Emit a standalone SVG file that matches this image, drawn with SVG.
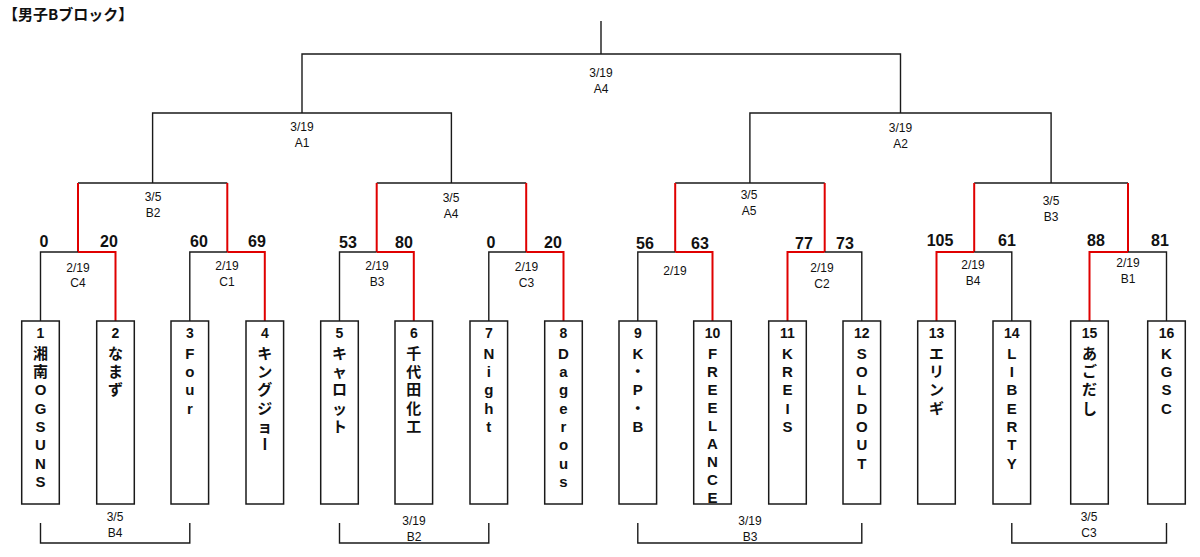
<svg xmlns="http://www.w3.org/2000/svg" width="1200" height="557" viewBox="0 0 1200 557">
<style>
.k{fill:none;stroke:#1a1a1a;stroke-width:1.4}
.r{fill:none;stroke:#e00000;stroke-width:2}
.box{fill:#fff;stroke:#1a1a1a;stroke-width:1.5}
.lb{font-family:"Liberation Sans","Noto Sans CJK JP",sans-serif;font-size:12px;fill:#111;text-anchor:middle}
.sc{font-family:"Liberation Sans","Noto Sans CJK JP",sans-serif;font-size:16px;font-weight:bold;fill:#111;text-anchor:middle}
.no{font-family:"Liberation Sans","Noto Sans CJK JP",sans-serif;font-size:14px;font-weight:bold;fill:#111;text-anchor:middle}
.nm{font-family:"Liberation Sans","Noto Sans CJK JP",sans-serif;font-size:15px;font-weight:bold;fill:#111;text-anchor:middle}
.tt{font-family:"Noto Sans CJK JP","Liberation Sans",sans-serif;font-size:15px;font-weight:bold;fill:#111}
</style>
<rect width="1200" height="557" fill="#fff"/>
<text class="tt" x="3" y="19.5">【男子Bブロック】</text>

<g id="connectors">
  <path class="k" d="M601 21V54M302 113V54H900.5V113"/>
  <path class="k" d="M152.6 183V113H451.4V183"/>
  <path class="k" d="M749.9 183V113H1051.1V183"/>
  <path class="k" d="M78 183H227.3M376.7 183H526.2M675.2 183H824.7M974.2 183H1128"/>
  <path class="r" d="M78 183V252M227.3 183V252M376.7 183V252M526.2 183V252M675.2 183V252M824.7 183V252M974.2 183V252M1128 183V252"/>
  <path class="k" d="M40.5 321V252H78"/>
  <path class="r" d="M78 252H115.5V321"/>
  <path class="k" d="M189.8 321V252H227.3"/>
  <path class="r" d="M227.3 252H264.8V321"/>
  <path class="k" d="M339.5 321V252H376.7"/>
  <path class="r" d="M376.7 252H413.8V321"/>
  <path class="k" d="M488.8 321V252H526.2"/>
  <path class="r" d="M526.2 252H563.5V321"/>
  <path class="k" d="M637.8 321V252H675.2"/>
  <path class="r" d="M675.2 252H712.5V321"/>
  <path class="r" d="M787.5 321V252H824.7"/>
  <path class="k" d="M824.7 252H861.8V321"/>
  <path class="r" d="M936.5 321V252H974.2"/>
  <path class="k" d="M974.2 252H1011.8V321"/>
  <path class="r" d="M1089.5 321V252H1128"/>
  <path class="k" d="M1128 252H1166.5V321"/>
  <path class="k" d="M40.5 523V543H189.8V523"/>
  <path class="k" d="M339.5 523V543H488.8V523"/>
  <path class="k" d="M637.8 523V543H861.8V523"/>
  <path class="k" d="M1011.8 523V543H1166.5V523"/>
</g>

<g id="labels">
  <text class="lb" x="601" y="76.5">3/19</text><text class="lb" x="601" y="92.5">A4</text>
  <text class="lb" x="302" y="130.5">3/19</text><text class="lb" x="302" y="146.5">A1</text>
  <text class="lb" x="900.5" y="131.5">3/19</text><text class="lb" x="900.5" y="147.5">A2</text>
  <text class="lb" x="153" y="200.5">3/5</text><text class="lb" x="153" y="216.5">B2</text>
  <text class="lb" x="451" y="202">3/5</text><text class="lb" x="451" y="217.5">A4</text>
  <text class="lb" x="749" y="198.5">3/5</text><text class="lb" x="749" y="215">A5</text>
  <text class="lb" x="1051" y="204.5">3/5</text><text class="lb" x="1051" y="220.5">B3</text>
  <text class="lb" x="78" y="271.5">2/19</text><text class="lb" x="78" y="286.5">C4</text>
  <text class="lb" x="227" y="269.5">2/19</text><text class="lb" x="227" y="285.5">C1</text>
  <text class="lb" x="377" y="270">2/19</text><text class="lb" x="377" y="285.5">B3</text>
  <text class="lb" x="526.5" y="270.5">2/19</text><text class="lb" x="526.5" y="286.5">C3</text>
  <text class="lb" x="675" y="275">2/19</text>
  <text class="lb" x="822" y="271.5">2/19</text><text class="lb" x="822" y="287.5">C2</text>
  <text class="lb" x="973" y="268.5">2/19</text><text class="lb" x="973" y="284.5">B4</text>
  <text class="lb" x="1128" y="267">2/19</text><text class="lb" x="1128" y="283">B1</text>
  <text class="lb" x="115" y="521">3/5</text><text class="lb" x="115" y="537">B4</text>
  <text class="lb" x="414" y="525">3/19</text><text class="lb" x="414" y="541">B2</text>
  <text class="lb" x="750" y="524.5">3/19</text><text class="lb" x="750" y="540.5">B3</text>
  <text class="lb" x="1089" y="521">3/5</text><text class="lb" x="1089" y="537">C3</text>
</g>

<g id="scores">
  <text class="sc" x="44" y="247">0</text>
  <text class="sc" x="109" y="247">20</text>
  <text class="sc" x="199" y="247">60</text>
  <text class="sc" x="257" y="247">69</text>
  <text class="sc" x="348" y="248">53</text>
  <text class="sc" x="404" y="248">80</text>
  <text class="sc" x="491" y="248">0</text>
  <text class="sc" x="553" y="248">20</text>
  <text class="sc" x="645" y="248.5">56</text>
  <text class="sc" x="700" y="248.5">63</text>
  <text class="sc" x="804" y="248.5">77</text>
  <text class="sc" x="845" y="248.5">73</text>
  <text class="sc" x="940" y="246">105</text>
  <text class="sc" x="1007" y="246">61</text>
  <text class="sc" x="1096" y="246">88</text>
  <text class="sc" x="1160" y="246">81</text>
</g>

<g id="team1"><rect class="box" x="21.7" y="321" width="37.6" height="183"/><text class="no" x="40.5" y="337.5">1</text>
<text class="nm" y="358.7"><tspan x="40.5">湘</tspan><tspan x="40.5" dy="18.3">南</tspan><tspan x="40.5" dy="18.3">O</tspan><tspan x="40.5" dy="18.3">G</tspan><tspan x="40.5" dy="18.3">S</tspan><tspan x="40.5" dy="18.3">U</tspan><tspan x="40.5" dy="18.3">N</tspan><tspan x="40.5" dy="18.3">S</tspan></text></g>
<g id="team2"><rect class="box" x="96.7" y="321" width="37.6" height="183"/><text class="no" x="115.5" y="337.5">2</text>
<text class="nm" y="358.7"><tspan x="115.5">な</tspan><tspan x="115.5" dy="18.3">ま</tspan><tspan x="115.5" dy="18.3">ず</tspan></text></g>
<g id="team3"><rect class="box" x="171" y="321" width="37.6" height="183"/><text class="no" x="189.8" y="337.5">3</text>
<text class="nm" y="358.7"><tspan x="189.8">F</tspan><tspan x="189.8" dy="18.3">o</tspan><tspan x="189.8" dy="18.3">u</tspan><tspan x="189.8" dy="18.3">r</tspan></text></g>
<g id="team4"><rect class="box" x="246" y="321" width="37.6" height="183"/><text class="no" x="264.8" y="337.5">4</text>
<text class="nm" y="358.7"><tspan x="264.8">キ</tspan><tspan x="264.8" dy="18.3">ン</tspan><tspan x="264.8" dy="18.3">グ</tspan><tspan x="264.8" dy="18.3">ジ</tspan><tspan x="264.8" dy="18.3">ョ</tspan></text>
<text class="nm" x="264.8" y="449.5" transform="rotate(90 264.8 444)">ー</text></g>
<g id="team5"><rect class="box" x="320.7" y="321" width="37.6" height="183"/><text class="no" x="339.5" y="337.5">5</text>
<text class="nm" y="358.7"><tspan x="339.5">キ</tspan><tspan x="339.5" dy="18.3">ャ</tspan><tspan x="339.5" dy="18.3">ロ</tspan><tspan x="339.5" dy="18.3">ッ</tspan><tspan x="339.5" dy="18.3">ト</tspan></text></g>
<g id="team6"><rect class="box" x="395" y="321" width="37.6" height="183"/><text class="no" x="413.8" y="337.5">6</text>
<text class="nm" y="358.7"><tspan x="413.8">千</tspan><tspan x="413.8" dy="18.3">代</tspan><tspan x="413.8" dy="18.3">田</tspan><tspan x="413.8" dy="18.3">化</tspan><tspan x="413.8" dy="18.3">工</tspan></text></g>
<g id="team7"><rect class="box" x="470" y="321" width="37.6" height="183"/><text class="no" x="488.8" y="337.5">7</text>
<text class="nm" y="358.7"><tspan x="488.8">N</tspan><tspan x="488.8" dy="18.3">i</tspan><tspan x="488.8" dy="18.3">g</tspan><tspan x="488.8" dy="18.3">h</tspan><tspan x="488.8" dy="18.3">t</tspan></text></g>
<g id="team8"><rect class="box" x="544.7" y="321" width="37.6" height="183"/><text class="no" x="563.5" y="337.5">8</text>
<text class="nm" y="358.7"><tspan x="563.5">D</tspan><tspan x="563.5" dy="18.3">a</tspan><tspan x="563.5" dy="18.3">g</tspan><tspan x="563.5" dy="18.3">e</tspan><tspan x="563.5" dy="18.3">r</tspan><tspan x="563.5" dy="18.3">o</tspan><tspan x="563.5" dy="18.3">u</tspan><tspan x="563.5" dy="18.3">s</tspan></text></g>
<g id="team9"><rect class="box" x="619" y="321" width="37.6" height="183"/><text class="no" x="637.8" y="337.5">9</text>
<text class="nm" y="358.7"><tspan x="637.8">K</tspan><tspan x="637.8" dy="18.3">・</tspan><tspan x="637.8" dy="18.3">P</tspan><tspan x="637.8" dy="18.3">・</tspan><tspan x="637.8" dy="18.3">B</tspan></text></g>
<g id="team10"><rect class="box" x="693.7" y="321" width="37.6" height="183"/><text class="no" x="712.5" y="337.5">10</text>
<text class="nm" y="358.5"><tspan x="712.5">F</tspan><tspan x="712.5" dy="18.1">R</tspan><tspan x="712.5" dy="18.1">E</tspan><tspan x="712.5" dy="18.1">E</tspan><tspan x="712.5" dy="18.1">L</tspan><tspan x="712.5" dy="18.1">A</tspan><tspan x="712.5" dy="18.1">N</tspan><tspan x="712.5" dy="18.1">C</tspan><tspan x="712.5" dy="18.1">E</tspan></text></g>
<g id="team11"><rect class="box" x="768.7" y="321" width="37.6" height="183"/><text class="no" x="787.5" y="337.5">11</text>
<text class="nm" y="358.7"><tspan x="787.5">K</tspan><tspan x="787.5" dy="18.3">R</tspan><tspan x="787.5" dy="18.3">E</tspan><tspan x="787.5" dy="18.3">I</tspan><tspan x="787.5" dy="18.3">S</tspan></text></g>
<g id="team12"><rect class="box" x="843" y="321" width="37.6" height="183"/><text class="no" x="861.8" y="337.5">12</text>
<text class="nm" y="358.7"><tspan x="861.8">S</tspan><tspan x="861.8" dy="18.3">O</tspan><tspan x="861.8" dy="18.3">L</tspan><tspan x="861.8" dy="18.3">D</tspan><tspan x="861.8" dy="18.3">O</tspan><tspan x="861.8" dy="18.3">U</tspan><tspan x="861.8" dy="18.3">T</tspan></text></g>
<g id="team13"><rect class="box" x="917.7" y="321" width="37.6" height="183"/><text class="no" x="936.5" y="337.5">13</text>
<text class="nm" y="358.7"><tspan x="936.5">エ</tspan><tspan x="936.5" dy="18.3">リ</tspan><tspan x="936.5" dy="18.3">ン</tspan><tspan x="936.5" dy="18.3">ギ</tspan></text></g>
<g id="team14"><rect class="box" x="993" y="321" width="37.6" height="183"/><text class="no" x="1011.8" y="337.5">14</text>
<text class="nm" y="358.7"><tspan x="1011.8">L</tspan><tspan x="1011.8" dy="18.3">I</tspan><tspan x="1011.8" dy="18.3">B</tspan><tspan x="1011.8" dy="18.3">E</tspan><tspan x="1011.8" dy="18.3">R</tspan><tspan x="1011.8" dy="18.3">T</tspan><tspan x="1011.8" dy="18.3">Y</tspan></text></g>
<g id="team15"><rect class="box" x="1070.7" y="321" width="37.6" height="183"/><text class="no" x="1089.5" y="337.5">15</text>
<text class="nm" y="358.7"><tspan x="1089.5">あ</tspan><tspan x="1089.5" dy="18.3">ご</tspan><tspan x="1089.5" dy="18.3">だ</tspan><tspan x="1089.5" dy="18.3">し</tspan></text></g>
<g id="team16"><rect class="box" x="1147.7" y="321" width="37.6" height="183"/><text class="no" x="1166.5" y="337.5">16</text>
<text class="nm" y="358.7"><tspan x="1166.5">K</tspan><tspan x="1166.5" dy="18.3">G</tspan><tspan x="1166.5" dy="18.3">S</tspan><tspan x="1166.5" dy="18.3">C</tspan></text></g>
</svg>
